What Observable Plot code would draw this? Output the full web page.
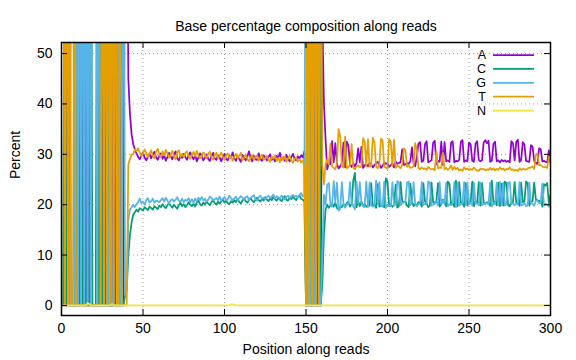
<!DOCTYPE html>
<html><head><meta charset="utf-8">
<script src="https://cdn.jsdelivr.net/npm/d3@7"></script>
<script src="https://cdn.jsdelivr.net/npm/@observablehq/plot@0.6"></script>
<style>body{margin:0;background:#fff}#chart svg{display:block}</style>
</head><body><div id="chart"></div>
<script>
// Positions along reads are 1..300; each array holds percent per position.
const bases = ["A", "C", "G", "T", "N"];
const colors = ["#9400d3", "#009e73", "#56b4e9", "#e69f00", "#f0e442"];
const xTicks = [0, 50, 100, 150, 200, 250, 300];
const yTicks = [0, 10, 20, 30, 40, 50];

const A = [
  0,0,0,100,0,0,0,0,0,0, 0,100,0,0,0,100,0,0,0,0, 0,0,0,0,0,100,0,0,0,0, 0,100,0,0,0,0,100,0,96,94,
  45,38,34,32,31,
  30.2,29.5,29.0,29.8,30.4,29.3,28.8,29.6,30.1,29.2,
  29.9,30.5,29.4,28.9,29.7,30.2,29.1,29.8,28.7,29.5,
  30.3,29.6,29.0,29.9,30.6,29.2,28.8,29.7,29.3,30.1,
  29.4,28.9,29.8,30.4,29.5,29.0,29.9,28.6,29.4,30.2,
  29.7,28.8,29.3,30.0,29.1,28.7,29.6,30.3,29.2,28.9,
  29.8,29.4,28.6,29.5,30.1,29.0,28.8,29.7,29.3,30.4,
  29.2,28.7,29.6,29.1,28.5,29.9,29.4,28.8,29.5,30.6,
  29.3,28.6,29.7,29.0,28.9,30.2,29.1,28.7,29.8,29.4,
  28.8,29.5,30.0,28.9,29.3,28.6,29.7,29.2,30.3,28.9,
  29.4,28.7,29.9,29.1,28.6,29.5,30.1,29.0,28.8,29.6,
  29.2,29.8,29.4,30.6,
  0,0,0,0,0,0,100,0,0,0,58,40,33,27,
  28.3,28.0,32.6,28.4,32.2,28.1,27.2,27.6,28.2,32.3,
  27.4,32.5,31.8,28.0,27.5,28.2,27.6,28.3,31.2,28.4,
  31.5,27.3,27.8,28.1,27.6,28.3,28.0,27.4,27.9,28.2,
  28.5,28.0,27.3,27.7,28.4,28.1,28.3,27.5,27.8,28.2,
  27.4,28.6,28.1,28.3,28.4,31.0,27.9,28.0,28.3,28.1,
  28.6,31.4,28.2,27.6,29.5,32.1,32.4,28.5,28.7,32.0,
  32.6,28.4,28.6,28.8,32.3,32.7,28.0,28.7,28.5,32.5,
  27.9,32.4,28.6,28.8,28.5,32.3,32.6,28.4,28.7,28.6,
  28.9,32.5,32.8,28.5,28.8,28.6,32.3,32.0,28.7,28.5,
  32.1,32.6,28.9,28.6,28.8,32.4,32.8,32.2,32.7,28.5,
  28.7,32.1,32.5,28.6,28.8,28.4,28.9,28.6,28.8,28.5,
  28.7,28.4,32.6,32.2,28.8,32.5,32.9,28.5,28.9,32.4,
  32.0,28.7,28.6,28.5,31.8,31.5,28.7,28.3,28.1,31.2,
  31.0,28.6,28.7,28.5,28.4,30.8,28.4
];

const C = [
  0,100,0,0,0,0,0,0,0,100, 0,0,0,100,0,0,0,100,0,0, 0,100,0,100,0,0,0,100,0,0, 0,0,0,100,0,0,0,0,2,3,
  10,14,16.5,18,18.5,
  19.0,18.6,19.3,19.1,18.8,19.5,19.2,18.9,19.6,19.3,
  19.0,19.7,19.4,19.1,19.8,19.5,20.1,19.6,19.3,19.9,
  20.3,19.8,19.4,20.0,19.6,19.2,19.9,20.4,19.7,20.1,
  19.5,19.9,20.5,20.0,19.7,20.2,19.6,20.4,20.8,20.1,
  19.8,20.4,20.0,20.6,20.2,19.9,20.5,20.9,20.3,20.0,
  20.6,20.2,20.7,21.0,20.4,20.8,20.3,20.1,20.7,20.4,
  20.9,20.5,21.1,20.6,20.2,20.8,21.2,20.7,20.4,20.9,
  21.3,20.8,20.5,21.0,21.4,20.9,20.6,21.2,20.8,21.5,
  21.0,20.7,21.3,20.9,21.6,21.1,20.8,21.4,21.0,20.7,
  21.3,21.7,21.0,20.8,21.4,21.1,21.6,21.2,20.9,21.5,
  21.8,21.2,21.0,20.6,
  0,0,100,0,0,0,0,0,100,0,4,14,19,20,
  19.4,19.8,20.2,19.6,20.4,19.3,19.0,19.6,19.5,20.1,
  19.7,20.3,20.6,19.6,20.2,24.8,26.3,19.5,20.8,19.7,
  20.6,19.8,20.1,19.6,19.9,19.8,24.3,19.7,20.0,19.4,
  24.1,19.6,19.8,19.9,19.5,25.2,24.6,19.7,20.0,19.6,
  19.9,24.0,19.4,19.7,24.5,20.7,20.5,20.6,19.8,19.5,
  24.2,20.8,19.7,20.1,19.8,20.5,20.4,19.6,24.3,20.6,
  20.3,19.5,19.8,24.4,20.5,20.4,20.7,24.3,19.6,20.2,
  21.0,20.5,19.7,24.6,24.2,20.0,20.3,19.6,24.8,19.7,
  24.5,20.4,20.3,19.6,24.3,19.8,20.6,20.5,24.6,19.7,
  20.6,20.4,24.5,19.8,24.3,20.4,20.2,20.5,20.3,19.8,
  24.8,20.5,20.6,19.9,24.4,19.7,24.2,19.8,24.6,24.3,
  19.9,19.7,20.4,20.5,24.5,20.4,20.3,19.8,24.4,20.5,
  20.6,24.6,24.3,19.8,20.6,20.7,24.4,21.0,20.9,20.7,
  20.8,19.6,24.1,23.8,24.3,20.1,22.0
];

const G = [
  0,0,0,0,0,100,100,0,100,0, 100,0,100,0,100,0,100,0,100,100, 100,0,100,0,0,0,0,0,0,100, 0,0,0,0,100,0,0,100,2,3,
  17,19,19.5,20,19.5,
  20.1,20.5,21.2,20.3,20.6,20.0,20.9,21.3,20.4,20.7,
  21.2,20.4,20.8,20.7,20.5,20.9,21.3,20.6,21.4,20.8,
  20.2,20.9,21.1,20.6,21.0,21.5,20.8,20.6,21.2,20.5,
  21.0,20.8,21.3,20.5,21.1,20.4,21.2,20.6,21.4,20.9,
  21.5,20.8,21.2,20.6,21.0,21.6,21.4,20.9,21.1,21.3,
  20.9,21.6,20.8,21.2,21.5,20.9,21.1,21.8,21.3,20.9,
  21.2,21.6,20.9,21.3,21.7,21.4,21.1,21.5,21.7,20.9,
  21.4,21.6,21.9,21.1,20.8,21.5,21.8,21.2,21.4,21.1,
  21.5,21.8,21.3,21.6,22.0,21.2,21.7,21.5,21.2,21.8,
  21.5,21.0,21.6,21.8,21.3,21.7,21.9,21.6,21.8,21.4,
  21.9,22.3,21.7,21.6,
  100,0,0,0,100,0,0,0,0,0,10,22,20,24,
  24.3,20.1,19.6,24.7,20.4,24.4,18.8,19.2,24.5,20.2,
  19.4,20.0,20.1,24.5,20.3,19.7,19.1,24.6,20.2,24.5,
  20.3,19.7,19.5,24.6,19.5,24.4,19.9,19.6,19.7,24.8,
  20.2,24.5,19.8,19.6,24.6,19.3,20.0,19.8,19.7,24.5,
  19.8,20.1,24.7,24.4,19.9,20.4,20.4,20.6,24.4,24.6,
  19.9,20.4,24.5,20.1,19.7,20.1,20.2,24.5,19.9,20.2,
  20.2,24.6,24.4,19.8,20.1,20.1,20.7,19.8,24.5,20.0,
  20.8,20.1,24.4,19.7,20.1,19.9,20.2,24.5,19.5,24.4,
  19.8,20.1,20.2,24.5,19.9,24.4,20.2,20.4,19.8,24.4,
  20.3,20.2,19.9,24.4,19.9,20.1,20.2,20.3,20.1,24.4,
  19.6,20.2,20.1,24.4,19.9,24.5,19.9,24.4,19.8,20.1,
  24.4,24.5,20.1,20.3,19.9,20.2,20.1,24.5,19.8,20.0,
  20.4,19.7,19.9,24.4,20.2,20.2,19.8,20.8,20.8,20.3,
  20.3,24.2,19.8,20.2,20.0,19.6,20.3
];

const T = [
  100,0,100,0,100,0,0,100,0,0, 0,0,0,0,0,0,0,0,0,0, 0,0,0,0,100,0,100,0,100,0, 100,0,100,0,0,100,0,0,0,0,
  28,29,30,30,31,
  30.6,31.2,30.4,29.6,30.1,31.0,30.3,29.5,30.2,30.8,
  29.7,29.2,30.5,31.1,30.0,29.4,30.6,29.8,30.9,30.2,
  29.3,29.9,30.7,29.6,29.0,30.4,30.8,29.5,30.1,29.4,
  30.3,30.6,29.7,29.1,29.9,30.5,29.6,30.7,29.8,29.2,
  29.6,30.4,29.9,29.2,30.1,30.5,29.4,28.9,29.8,30.3,
  29.2,29.7,30.4,29.5,28.9,29.8,30.2,29.3,29.6,28.7,
  29.5,30.1,29.2,29.7,30.3,28.8,29.4,30.0,29.1,28.6,
  29.3,29.9,28.8,29.5,29.8,28.7,29.4,29.9,28.9,29.2,
  29.7,28.9,28.5,29.6,29.1,29.8,28.7,29.3,28.4,29.5,
  28.9,29.6,28.5,29.2,29.7,28.8,28.3,29.1,29.4,28.6,
  29.0,28.4,28.8,27.4,
  0,100,0,100,0,100,0,100,0,100,28,24,28,29,
  28.0,32.1,27.6,27.3,27.0,28.2,35.0,33.6,27.8,27.4,
  33.5,27.2,27.5,27.9,32.0,27.3,27.0,27.6,27.8,27.4,
  27.6,33.2,32.6,27.7,33.0,27.5,27.8,33.3,32.4,27.6,
  27.2,27.9,33.1,32.8,27.5,27.4,27.1,33.0,32.5,27.7,
  32.9,27.3,27.8,27.6,27.2,27.9,31.2,30.8,27.5,27.8,
  27.3,27.4,27.6,32.2,31.0,27.3,27.0,27.4,27.1,27.2,
  26.9,27.5,27.2,27.0,27.1,26.8,30.6,27.2,27.4,27.3,
  30.3,27.0,27.3,26.9,27.2,27.8,26.9,27.5,27.0,27.3,
  26.8,27.0,26.7,27.4,27.0,27.2,26.9,27.1,26.9,27.4,
  27.0,26.8,26.7,27.2,27.0,27.1,26.8,27.0,26.9,27.3,
  26.9,27.2,26.8,27.1,26.9,27.4,27.0,27.2,26.8,27.1,
  27.0,27.4,26.9,27.0,26.8,26.9,26.7,27.2,26.9,27.1,
  27.0,27.0,27.2,27.3,27.4,27.6,27.1,29.9,30.2,27.8,
  27.9,27.6,27.4,27.5,27.3,29.5,29.3
];

const N = [
  0,0,0,0,0,0,0,0,0,0,0,0,0,0,0,0.5,0.3,0,0,0,
  0,0,0,0,0,0,0,0,0,0,0.3,0,0,0,0,0,0,0,0,0,
  0,0,0,0,0,0,0,0,0,0,0,0,0,0,0,0,0,0,0,0,
  0,0,0,0,0,0,0,0,0,0,0,0,0,0,0,0,0,0,0,0,
  0,0,0,0,0,0,0,0,0,0,0,0,0,0,0,0,0,0,0,0,
  0,0,0,0.2,0.2,0.1,0,0,0,0,0,0,0,0,0,0,0,0,0,0,
  0,0,0,0,0,0,0,0,0,0,0,0,0,0,0,0,0,0,0,0,
  0,0,0,0,0,0,0,0,0,0,0,0,0,0,0,0,0,0,0,0,
  0,0,0,0,0,0,0,0,0,0,0,0,0,0,0,0,0,0,0,0,
  0,0,0,0,0,0,0,0,0,0,0,0,0,0,0,0,0,0,0,0,
  0,0,0,0,0,0,0,0,0,0,0,0,0,0,0,0,0,0,0,0,
  0,0,0,0,0,0,0,0,0,0,0,0,0,0,0,0,0,0,0,0,
  0,0,0,0,0,0,0,0,0,0,0,0,0,0,0,0,0,0,0,0,
  0,0,0,0,0,0,0,0,0,0,0,0,0,0,0,0,0,0,0,0,
  0,0,0,0,0,0,0,0,0,0,0,0,0,0,0,0,0,0,0,0
];

const seriesByBase = {A, C, G, T, N};
for (const b of bases) if (seriesByBase[b].length !== 300) console.error(b, seriesByBase[b].length);
const rows = bases.flatMap(b => seriesByBase[b].map((v, i) => ({base: b, pos: i + 1, pct: v})));

const W = 576, H = 360, mT = 42, mB = 45, mL = 61, mR = 26;
const fw = W - mL - mR, fh = H - mT - mB, tl = 6;
const font = "'Liberation Sans', Arial, sans-serif";

const chart = Plot.plot({
  width: W, height: H,
  marginTop: mT, marginBottom: mB, marginLeft: mL, marginRight: mR,
  style: {fontFamily: font, fontSize: "14px", background: "#fff", color: "#000"},
  x: {domain: [0, 300], label: null},
  y: {domain: [-2, 52.2], label: null},
  color: {domain: bases, range: colors},
  marks: [
    Plot.gridX(xTicks.slice(1, -1), {stroke: "#a0a0a0", strokeOpacity: 1, strokeDasharray: "1,3", strokeWidth: 1}),
    Plot.gridY(yTicks.slice(1), {stroke: "#a0a0a0", strokeOpacity: 1, strokeDasharray: "1,3", strokeWidth: 1}),
    Plot.lineY(rows, {x: "pos", y: "pct", z: "base", stroke: "base", strokeWidth: 1.75, clip: true}),
    Plot.tickX(xTicks, {x: d => d, insetTop: fh - tl, stroke: "#000", strokeWidth: 1}),
    Plot.tickX(xTicks, {x: d => d, insetBottom: fh - tl, stroke: "#000", strokeWidth: 1}),
    Plot.tickY(yTicks, {y: d => d, insetRight: fw - tl, stroke: "#000", strokeWidth: 1}),
    Plot.tickY(yTicks, {y: d => d, insetLeft: fw - tl, stroke: "#000", strokeWidth: 1}),
    Plot.axisX(xTicks, {tickSize: 0, tickPadding: 8, fontSize: 14, label: null}),
    Plot.axisY(yTicks, {tickSize: 0, tickPadding: 9, fontSize: 14, label: null}),
    Plot.frame({stroke: "#000", strokeWidth: 1.5}),
    Plot.text(["Base percentage composition along reads"], {frameAnchor: "top", dy: -21, fontSize: 14}),
    Plot.text(["Position along reads"], {frameAnchor: "bottom", dy: 38, fontSize: 14}),
    Plot.text(["Percent"], {frameAnchor: "left", dx: -46, rotate: -90, fontSize: 14})
  ]
});
document.getElementById("chart").append(chart);

// Legend (top-right, inside the frame)
const svg = d3.select(chart);
const lg = svg.append("g").attr("font-family", font).attr("font-size", 12.5);
bases.forEach((b, i) => {
  const y = 55 + i * 13.9;
  lg.append("text").attr("x", 486).attr("y", y).attr("dy", "0.35em").attr("text-anchor", "end").attr("fill", "#000").text(b);
  lg.append("line").attr("x1", 493).attr("x2", 534).attr("y1", y).attr("y2", y).attr("stroke", colors[i]).attr("stroke-width", 1.75);
});
</script>
</body></html>
